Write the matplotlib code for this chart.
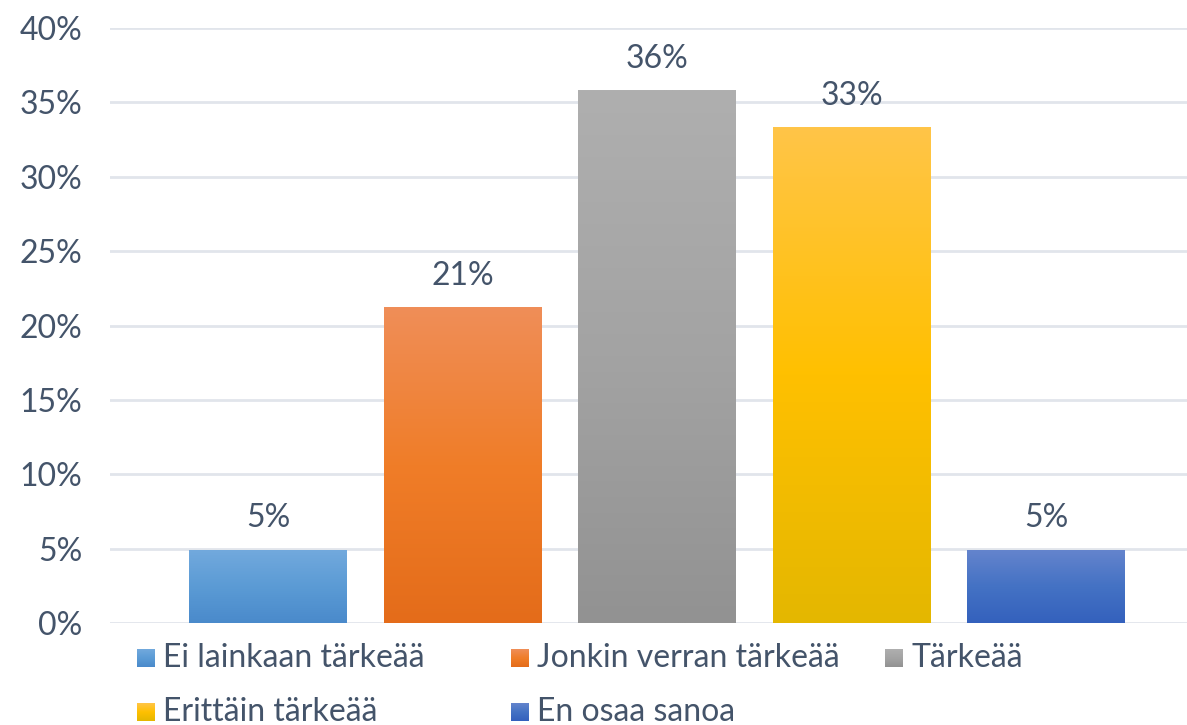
import numpy as np
import matplotlib
matplotlib.use("Agg")
import matplotlib.pyplot as plt
from matplotlib.colors import LinearSegmentedColormap

# datos
categorias = ["Ei lainkaan tärkeää", "Jonkin verran tärkeää", "Tärkeää",
              "Erittäin tärkeää", "En osaa sanoa"]
valores = [4.9, 21.2, 35.8, 33.3, 4.9]
etiquetas = ["5%", "21%", "36%", "33%", "5%"]
yticks = [0, 5, 10, 15, 20, 25, 30, 35, 40]

# colores degradados (abajo, medio, arriba)
degradados = [
    ["#4a8acb", "#5b9bd5", "#72a9dd"],
    ["#e46c1a", "#f07d28", "#ef8e58"],
    ["#929292", "#a3a3a3", "#afafaf"],
    ["#e4b700", "#ffc000", "#ffc548"],
    ["#3461bd", "#4472c4", "#6484cd"],
]
texto = "#44546a"
grid = "#e1e5eb"
fs = 23

plt.rcParams['font.family'] = ['Lato', 'DejaVu Sans']

fig = plt.figure(figsize=(11.87, 7.25), dpi=100)
ax = fig.add_axes([110 / 1187, 1 - 623 / 725, 1 - 110 / 1187, (623 - 28) / 725])

x = np.arange(len(valores))
barras = ax.bar(x, valores, width=0.81, color="none", zorder=2)

grad = np.linspace(0, 1, 256).reshape(-1, 1)
for b, cols in zip(barras, degradados):
    cmap = LinearSegmentedColormap.from_list("g", cols)
    x0, w, h = b.get_x(), b.get_width(), b.get_height()
    ax.imshow(grad, extent=[x0, x0 + w, 0, h], origin="lower", aspect="auto",
              cmap=cmap, zorder=2)

for b, et in zip(barras, etiquetas):
    ax.annotate(et, (b.get_x() + b.get_width() / 2, b.get_height()),
                xytext=(0, 12), textcoords="offset points", ha="center",
                va="bottom", fontsize=fs, color=texto)

ax.set_xlim(-0.812, 4.725)
ax.set_ylim(0, 40)
ax.set_yticks(yticks)
ax.set_yticklabels([f"{t}%" for t in yticks])
ax.set_xticks([])
ax.tick_params(axis="y", length=0, pad=20, labelsize=fs, labelcolor=texto)
ax.grid(axis="y", color=grid, linewidth=2, zorder=0)
ax.set_axisbelow(True)
for s in ax.spines.values():
    s.set_visible(False)

# leyenda manual
pos = [(137, 658), (511, 658), (885, 658), (137, 712), (511, 712)]
for (px, py), nombre, cols in zip(pos, categorias, degradados):
    m = fig.add_axes([px / 1187, 1 - (py + 9) / 725, 18 / 1187, 18 / 725])
    m.imshow(grad, origin="lower", aspect="auto",
             cmap=LinearSegmentedColormap.from_list("g", cols))
    m.axis("off")
    fig.text((px + 26) / 1187, 1 - py / 725, nombre, fontsize=fs,
             color=texto, va="center", ha="left")

fig.savefig("out.png", dpi=100)
